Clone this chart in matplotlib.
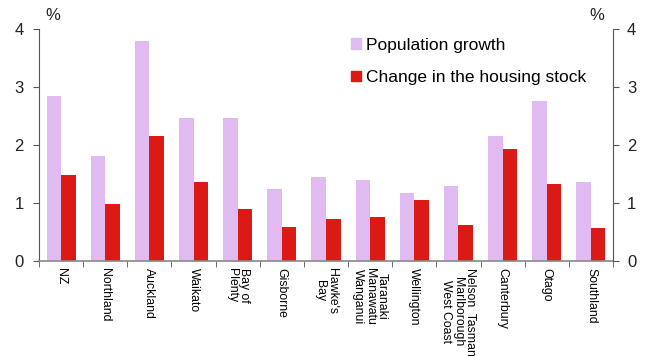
import numpy as np
import matplotlib.pyplot as plt
from matplotlib.patches import Patch

plt.rcParams['font.family'] = ['Liberation Sans', 'DejaVu Sans']

# datos
regiones = ['NZ', 'Northland', 'Auckland', 'Waikato', 'Bay of\nPlenty', 'Gisborne',
            "Hawke's\nBay", 'Taranaki\nManawatu\nWanganui', 'Wellington',
            'Nelson  Tasman\nMarlborough\nWest Coast', 'Canterbury', 'Otago', 'Southland']
poblacion = [2.84, 1.81, 3.79, 2.47, 2.46, 1.25, 1.44, 1.40, 1.17, 1.30, 2.15, 2.76, 1.36]
vivienda = [1.48, 0.99, 2.15, 1.36, 0.89, 0.59, 0.73, 0.76, 1.06, 0.62, 1.93, 1.32, 0.57]

c_pob = '#E0BAF1'
c_viv = '#DC1A15'
gris = '#555555'

fig = plt.figure(figsize=(6.47, 3.56), dpi=100)
ax = fig.add_axes([39 / 647, 1 - 261 / 356, 574 / 647, 232 / 356])

x = np.arange(len(regiones))
w = 0.33
ax.bar(x - w / 2, poblacion, w, color=c_pob, edgecolor='none')
ax.bar(x + w / 2, vivienda, w, color=c_viv, edgecolor='none')

ax.set_xlim(-0.5, len(regiones) - 0.5)
ax.set_ylim(0, 4)
ax.set_yticks([0, 1, 2, 3, 4])

# ejes
for s in ['top', 'right']:
    ax.spines[s].set_visible(False)
ax.spines['left'].set_color(gris)
ax.spines['bottom'].set_color('#888888')
ax.spines['bottom'].set_linewidth(1.2)

ax.tick_params(axis='y', direction='out', length=4, color=gris, labelsize=12,
               labelcolor='#222222', pad=7)
ax.set_xticks(x)
ax.set_xticklabels(regiones, rotation=270, fontsize=8.8, linespacing=1.0,
                   va='top', ha='center')
ax.set_xticks(np.arange(-0.5, len(regiones), 1), minor=True)
ax.tick_params(axis='x', which='major', length=0, pad=5)
ax.tick_params(axis='x', which='minor', length=4, color=gris, direction='out')

ax2 = ax.twinx()
ax2.set_ylim(0, 4)
ax2.set_yticks([0, 1, 2, 3, 4])
for s in ['top', 'left', 'bottom']:
    ax2.spines[s].set_visible(False)
ax2.spines['right'].set_color(gris)
ax2.tick_params(axis='y', direction='out', length=4, color=gris, labelsize=12,
                labelcolor='#222222', pad=6)

fig.text(53 / 647, 1 - 16 / 356, '%', fontsize=12, ha='center', va='center', color='#222222')
fig.text(597 / 647, 1 - 16 / 356, '%', fontsize=12, ha='center', va='center', color='#222222')

handles = [Patch(color=c_pob), Patch(color=c_viv)]
ax.legend(handles, ['Population growth', 'Change in the housing stock'],
          loc='upper left', bbox_to_anchor=(0.517, 1.03), frameon=False,
          fontsize=12.5, handlelength=0.55, handleheight=0.55, handletextpad=0.3,
          labelspacing=1.0)

fig.savefig('out.png', dpi=100)
